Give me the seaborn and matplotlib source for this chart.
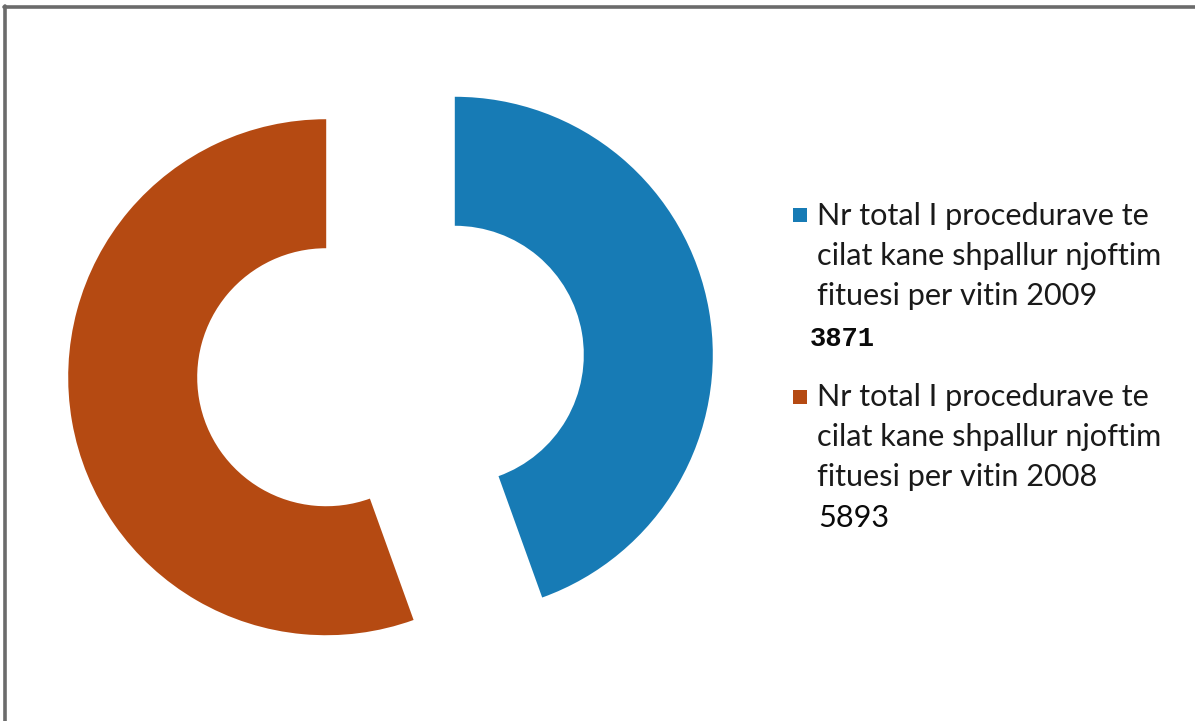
import matplotlib
matplotlib.use("Agg")
import matplotlib.pyplot as plt
import seaborn as sns
from matplotlib.patches import Rectangle
from matplotlib.lines import Line2D

# ---- data ----
series_names = ["2009", "2008"]
slice_shares = [44.5, 55.5]          # angular share of each ring segment as drawn
legend_lines = [
    ["Nr total I procedurave te", "cilat kane shpallur njoftim", "fituesi per vitin 2009"],
    ["Nr total I procedurave te", "cilat kane shpallur njoftim", "fituesi per vitin 2008"],
]
legend_values = ["3871", "5893"]
colors = ["#177BB5", "#B54A12"]

sns.set_theme(style="white")
plt.rcParams["font.family"] = ["Lato", "DejaVu Sans"]

W, H = 1195, 721
fig = plt.figure(figsize=(W / 100, H / 100), dpi=100)
fig.patch.set_facecolor("white")

# axes covering the whole figure, equal scale set by hand
ax = fig.add_axes([0, 0, 1, 1])
ax.pie(slice_shares, colors=colors, startangle=90, counterclock=False,
       explode=[0.253, 0.253], radius=1.0,
       wedgeprops=dict(width=0.5, edgecolor="none", linewidth=0))

cx, cy, R = 390.5, 366.0, 258.0   # pixel centre and radius of the ring
ax.set_aspect("auto")
ax.set_xlim(-cx / R, (W - cx) / R)
ax.set_ylim(-(H - cy) / R, cy / R)
ax.axis("off")

# ---- legend drawn manually ----
def px(x, y):
    return x / W, 1 - y / H

# fit font size so that the line width matches ~346 px
renderer = fig.canvas.get_renderer()
probe = fig.text(0, 0, legend_lines[0][1], fontsize=20)
wpx = probe.get_window_extent(renderer).width
probe.remove()
fs = 20 * 346 / wpx

blocks = [
    dict(square_top=208, baselines=[225, 265, 305], val_base=346, val_x=810,
         val_kw=dict(family=["Liberation Mono"], fontweight="bold", fontsize=19.5)),
    dict(square_top=390, baselines=[406, 446, 486], val_base=527, val_x=818,
         val_kw=dict(fontsize=fs)),
]
for i, b in enumerate(blocks):
    sx, sy = px(793, b["square_top"] + 14)
    fig.add_artist(Rectangle((sx, sy), 14 / W, 14 / H, transform=fig.transFigure,
                             facecolor=colors[i], edgecolor="none", zorder=5))
    for line, base in zip(legend_lines[i], b["baselines"]):
        tx, ty = px(817, base)
        fig.text(tx, ty, line, fontsize=fs, color="#1a1a1a", va="baseline", ha="left")
    tx, ty = px(b["val_x"], b["val_base"])
    fig.text(tx, ty, legend_values[i], color="#0a0a0a", va="baseline", ha="left", **b["val_kw"])

# ---- frame lines (top and left only, as in the screenshot) ----
fig.add_artist(Line2D([4 / W, 1], [1 - 7 / H, 1 - 7 / H], transform=fig.transFigure,
                      color="#6b6b6b", linewidth=2.6))
fig.add_artist(Line2D([5 / W, 5 / W], [0, 1 - 6 / H], transform=fig.transFigure,
                      color="#6b6b6b", linewidth=2.6))

fig.savefig("out.png", dpi=100, facecolor="white")
